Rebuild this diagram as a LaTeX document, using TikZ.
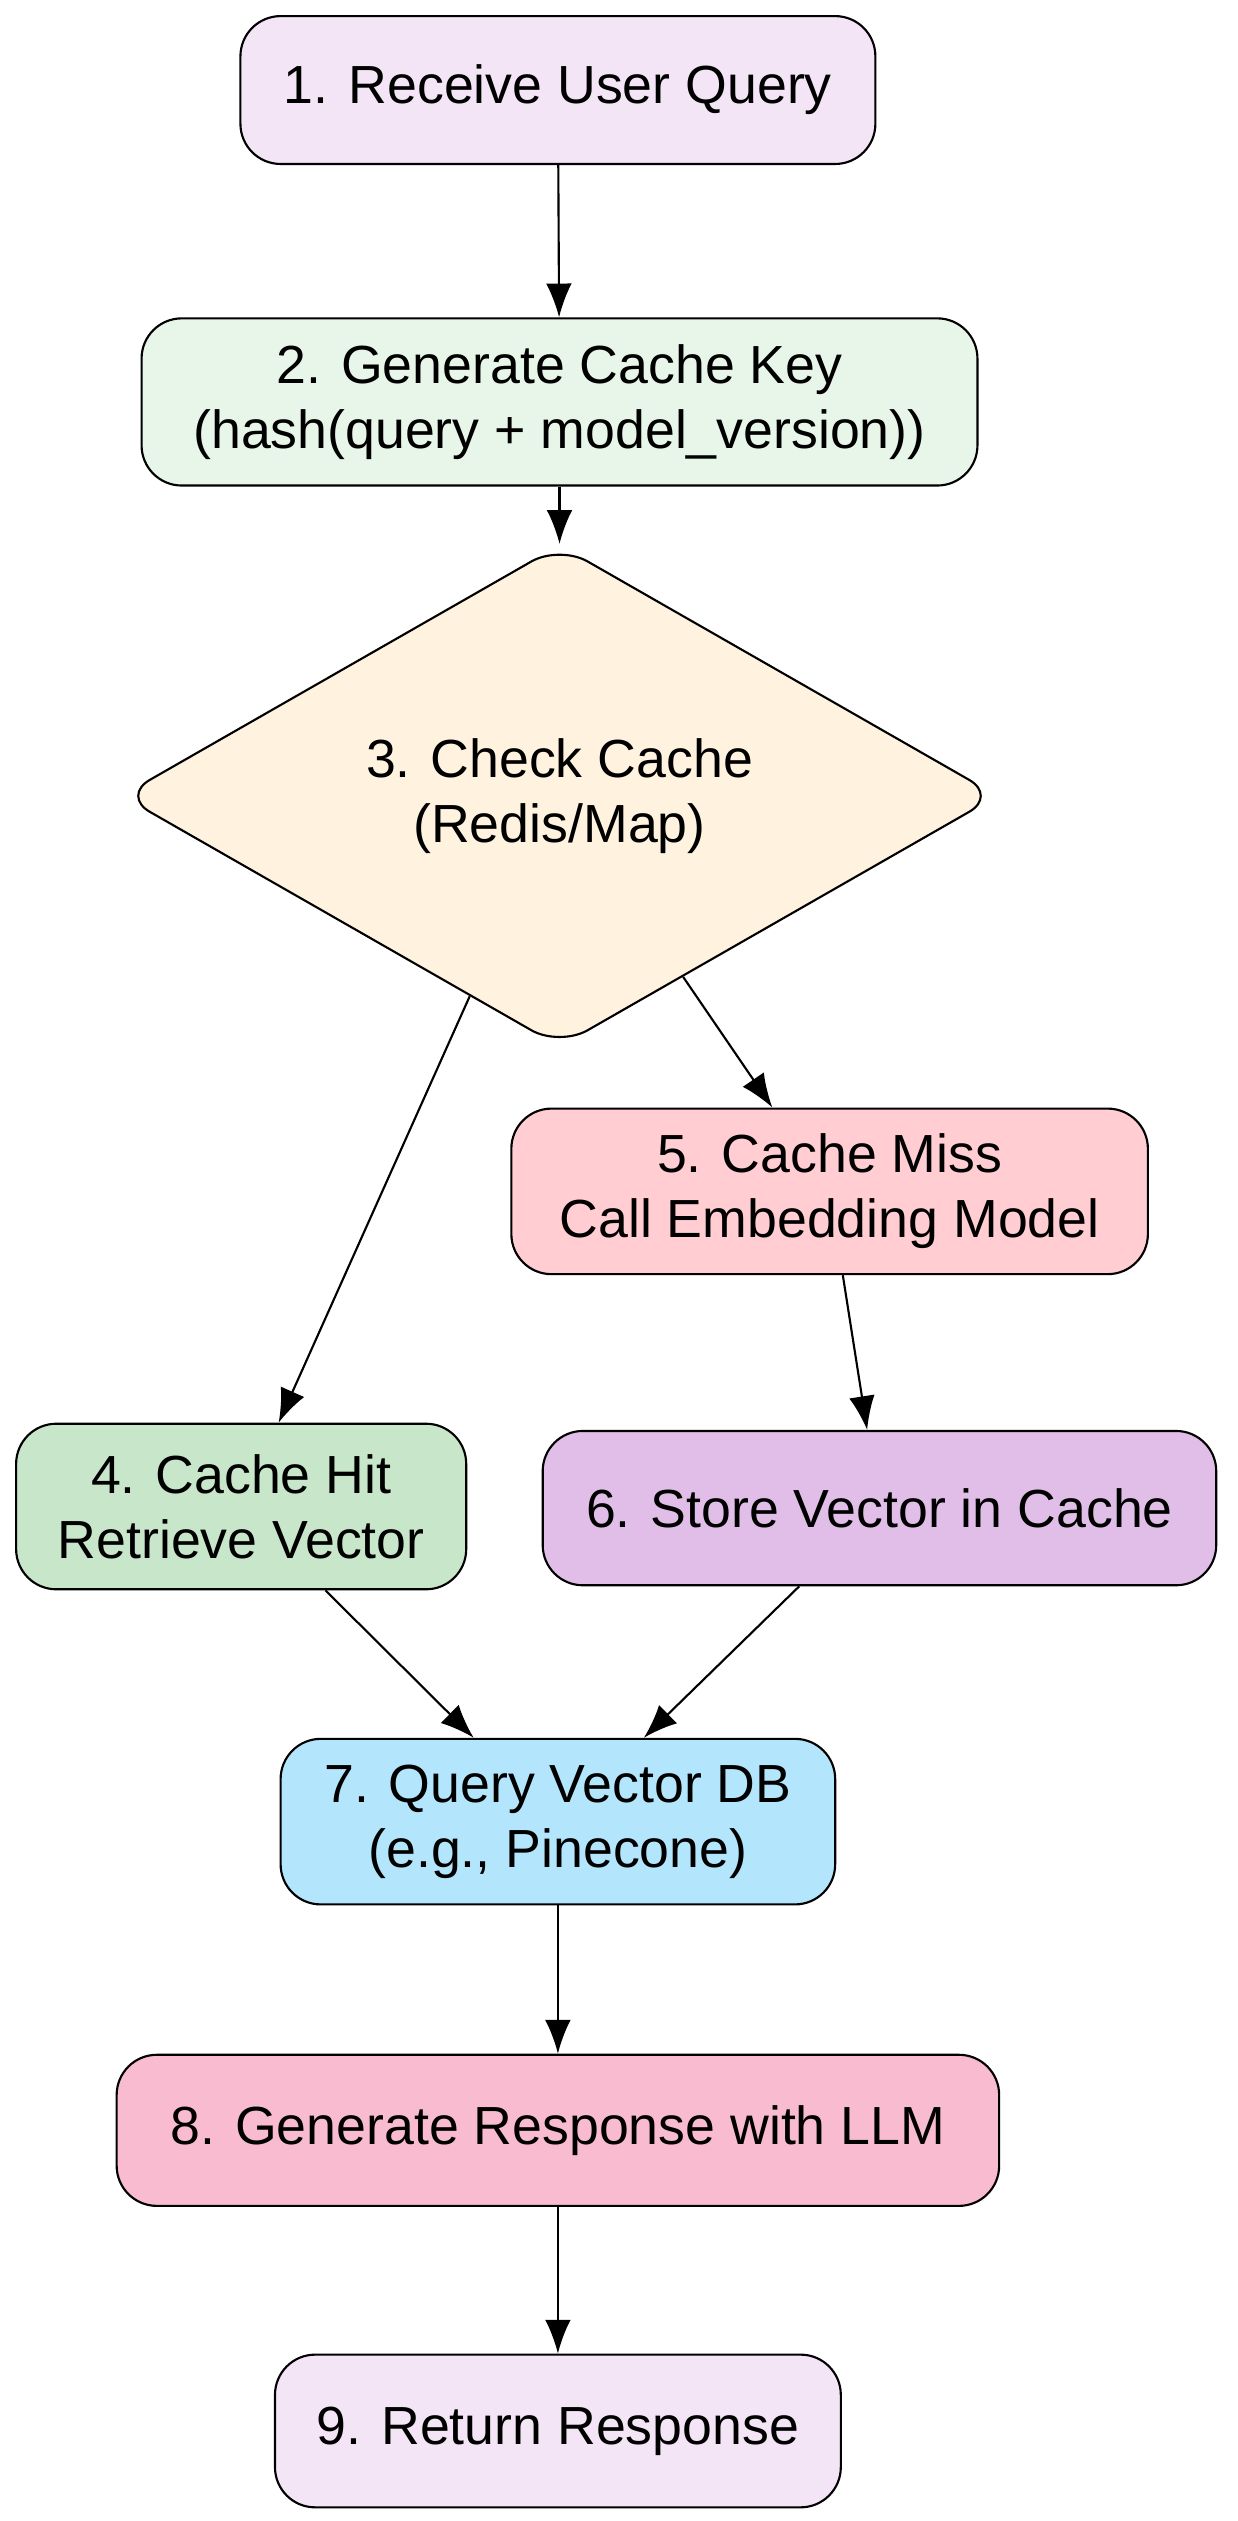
\documentclass[tikz,border=0pt]{standalone}
\usepackage{fontspec}
\setmainfont{Liberation Sans}
\usepackage{tikz}
\usetikzlibrary{shapes.geometric, arrows.meta}
\definecolor{lavender}{HTML}{F3E5F5}
\definecolor{mint}{HTML}{E8F5E9}
\definecolor{cream}{HTML}{FFF3E0}
\definecolor{rose}{HTML}{FFCDD2}
\definecolor{leaf}{HTML}{C8E6C9}
\definecolor{lilac}{HTML}{E1BEE7}
\definecolor{sky}{HTML}{B3E5FC}
\definecolor{pink}{HTML}{F8BBD0}
\tikzstyle{stage} = [rectangle, rounded corners=0.5cm, inner sep=0pt, minimum height=1.9cm, align=center, draw=black, line width=0.75pt, font=\fontsize{19}{23}\selectfont]
\tikzstyle{decision} = [diamond, rounded corners=0.4cm, inner sep=0pt, minimum width=10.9cm, minimum height=3.88cm, align=center, draw=black, line width=0.75pt, fill=cream, font=\fontsize{19}{23}\selectfont]
\tikzstyle{arrow} = [-{Latex[length=0.42cm, width=0.32cm]}, line width=0.75pt]
\begin{document}
\begin{tikzpicture}[x=0.02cm, y=-0.02cm]
	\useasboundingbox (0,0) rectangle (770,1568);
	\node (receive) [stage, fill=lavender, minimum width=7.9cm, minimum height=1.84cm] at (347,56) {1. Receive User Query};
	\node (key) [stage, fill=mint, minimum width=10.4cm, minimum height=2.08cm] at (348,250) {2. Generate Cache Key\\(hash(query + model\_version))};
	\node (check) [decision] at (348,495) {3. Check Cache\\(Redis/Map)};
	\node (miss) [stage, fill=rose, minimum width=7.92cm, minimum height=2.06cm] at (516,741) {5. Cache Miss\\Call Embedding Model};
	\node (hit) [stage, fill=leaf, minimum width=5.6cm, minimum height=2.06cm] at (150,937) {4. Cache Hit\\Retrieve Vector};
	\node (store) [stage, fill=lilac, minimum width=8.38cm, minimum height=1.92cm] at (547,938) {6. Store Vector in Cache};
	\node (query) [stage, fill=sky, minimum width=6.9cm, minimum height=2.06cm] at (347,1133) {7. Query Vector DB\\(e.g., Pinecone)};
	\node (llm) [stage, fill=pink, minimum width=10.98cm, minimum height=1.88cm] at (347,1325) {8. Generate Response with LLM};
	\node (reply) [stage, fill=lavender, minimum width=7.04cm, minimum height=1.9cm] at (347,1512) {9. Return Response};

	\draw [arrow](receive) -- (key);
	\draw [arrow](key) -- (check);
	\draw [arrow](check) -- (hit);
	\draw [arrow](check) -- (miss);
	\draw [arrow](miss) -- (store);
	\draw [arrow](hit) -- (query);
	\draw [arrow](store) -- (query);
	\draw [arrow](query) -- (llm);
	\draw [arrow](llm) -- (reply);
\end{tikzpicture}
\end{document}
